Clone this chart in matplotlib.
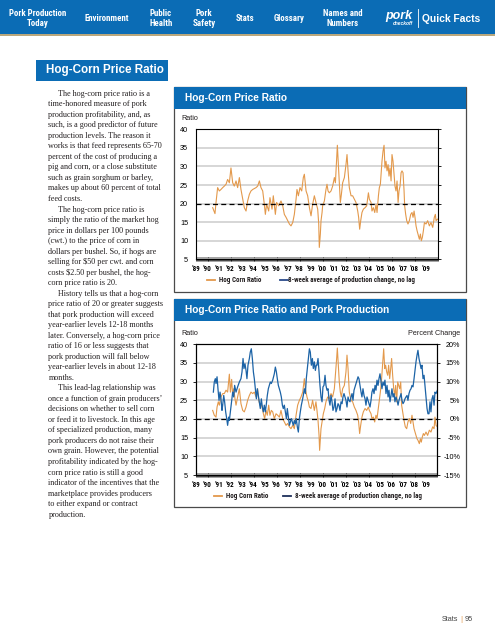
import matplotlib
matplotlib.use("Agg")
import matplotlib.pyplot as plt
from matplotlib import font_manager as fm
from matplotlib.patches import Rectangle
from matplotlib.lines import Line2D
from matplotlib.ticker import MultipleLocator, FuncFormatter

# ---------------- data ----------------
years = list(range(1989, 2010))
year_labels = ["\u2019%02d" % (y % 100) for y in years]
ratio_ticks = [5, 10, 15, 20, 25, 30, 35, 40]
pct_ticks = [-15, -10, -5, 0, 5, 10, 15, 20]

# Chart 1: Hog-corn price ratio
c1_year = [1990.45, 1990.65, 1990.74, 1990.88, 1991.03, 1991.17, 1991.32, 1991.46, 1991.61, 1991.75,
           1991.90, 1992.04, 1992.19, 1992.33, 1992.48, 1992.62, 1992.77, 1992.91, 1993.06, 1993.20,
           1993.35, 1993.49, 1993.64, 1993.78, 1993.93, 1994.22, 1994.36, 1994.51, 1994.65, 1994.80,
           1994.94, 1995.03, 1995.14, 1995.32, 1995.43, 1995.61, 1995.72, 1995.90, 1996.01, 1996.19,
           1996.39, 1996.54, 1996.68, 1996.83, 1996.97, 1997.12, 1997.26, 1997.41, 1997.55, 1997.70,
           1997.78, 1997.90, 1998.04, 1998.19, 1998.33, 1998.42, 1998.57, 1998.71, 1998.86, 1999.00,
           1999.14, 1999.29, 1999.43, 1999.58, 1999.67, 1999.72, 1999.81, 1999.87, 1999.96, 2000.01,
           2000.16, 2000.30, 2000.39, 2000.48, 2000.59, 2000.74, 2000.88, 2001.03, 2001.12, 2001.23,
           2001.29, 2001.38, 2001.46, 2001.55, 2001.64, 2001.75, 2001.90, 2002.04, 2002.13, 2002.22,
           2002.33, 2002.48, 2002.62, 2002.77, 2002.91, 2003.06, 2003.14, 2003.23, 2003.32, 2003.43,
           2003.55, 2003.70, 2003.84, 2003.99, 2004.07, 2004.22, 2004.30, 2004.42, 2004.54, 2004.65,
           2004.74, 2004.86, 2004.94, 2005.03, 2005.09, 2005.17, 2005.26, 2005.35, 2005.43, 2005.52,
           2005.61, 2005.70, 2005.78, 2005.87, 2005.96, 2006.04, 2006.13, 2006.22, 2006.30, 2006.39,
           2006.48, 2006.57, 2006.65, 2006.74, 2006.83, 2006.91, 2007.00, 2007.09, 2007.14, 2007.23,
           2007.32, 2007.43, 2007.55, 2007.67, 2007.78, 2007.87, 2007.96, 2008.04, 2008.13, 2008.22,
           2008.30, 2008.42, 2008.51, 2008.59, 2008.68, 2008.77, 2008.86, 2009.00, 2009.14, 2009.29,
           2009.43, 2009.58, 2009.72, 2009.81, 2009.87, 2009.99]
c1_ratio = [18.9, 17.3, 20.3, 24.3, 23.4, 23.8, 24.3, 24.7, 25.2, 26.5,
            25.6, 29.6, 25.6, 24.7, 26.1, 24.3, 27.0, 23.8, 21.2, 18.9,
            18.0, 20.7, 22.5, 23.4, 23.8, 24.3, 24.7, 26.1, 24.3, 23.4,
            19.8, 17.1, 19.8, 18.0, 21.6, 18.5, 22.1, 17.1, 20.3, 19.4,
            20.7, 19.4, 17.1, 16.3, 15.4, 14.5, 14.0, 14.9, 17.1, 21.2,
            23.8, 22.1, 24.3, 23.4, 27.0, 27.9, 23.4, 22.1, 18.9, 16.7,
            19.8, 22.1, 20.3, 18.5, 14.5, 8.2, 11.8, 15.4, 17.6, 19.4,
            20.7, 23.8, 25.2, 23.4, 22.9, 23.4, 24.7, 27.0, 25.6, 32.3,
            35.7, 30.5, 25.6, 20.3, 22.5, 25.6, 27.0, 30.5, 33.2, 28.8,
            24.3, 22.1, 22.1, 21.2, 20.3, 18.0, 16.3, 13.1, 15.4, 17.6,
            18.5, 18.9, 19.4, 22.9, 21.2, 20.3, 18.0, 18.9, 17.6, 19.8,
            17.6, 22.1, 24.3, 25.2, 27.9, 31.4, 34.1, 35.7, 29.6, 31.4,
            28.8, 30.5, 27.4, 29.6, 26.1, 33.2, 31.4, 27.9, 24.7, 23.4,
            26.1, 20.3, 23.4, 24.7, 28.3, 28.8, 28.3, 23.4, 19.4, 17.1,
            15.4, 14.5, 15.4, 17.1, 17.6, 16.3, 18.0, 16.3, 14.0, 12.7,
            11.8, 10.4, 11.8, 10.0, 10.9, 12.7, 14.9, 14.5, 15.4, 14.0,
            14.9, 13.6, 16.3, 17.1, 15.4, 15.8]

# Chart 2: hog-corn ratio (left axis)
c2_ratio_year = [1990.45, 1990.59, 1990.74, 1990.83, 1990.94, 1991.03, 1991.17, 1991.32, 1991.46, 1991.61,
                 1991.75, 1991.90, 1991.99, 1992.10, 1992.19, 1992.28, 1992.39, 1992.48, 1992.62, 1992.77,
                 1992.91, 1993.06, 1993.20, 1993.35, 1993.49, 1993.64, 1993.78, 1993.93, 1994.07, 1994.22,
                 1994.36, 1994.45, 1994.57, 1994.71, 1994.86, 1994.97, 1995.09, 1995.20, 1995.32, 1995.43,
                 1995.55, 1995.67, 1995.81, 1995.96, 1996.10, 1996.25, 1996.39, 1996.54, 1996.68, 1996.83,
                 1996.97, 1997.12, 1997.26, 1997.41, 1997.55, 1997.70, 1997.84, 1997.99, 1998.13, 1998.28,
                 1998.42, 1998.51, 1998.65, 1998.77, 1998.86, 1999.00, 1999.14, 1999.29, 1999.43,
                 1999.52, 1999.61, 1999.70, 1999.75, 1999.81, 1999.87, 1999.96, 2000.07, 2000.19, 2000.30,
                 2000.45, 2000.59, 2000.74, 2000.88, 2001.03, 2001.12, 2001.23, 2001.29, 2001.38, 2001.46,
                 2001.55, 2001.64, 2001.75, 2001.90, 2002.04, 2002.13, 2002.22, 2002.33, 2002.48, 2002.62,
                 2002.77, 2002.91, 2003.06, 2003.14, 2003.23, 2003.32, 2003.43, 2003.55, 2003.70, 2003.84,
                 2003.99, 2004.07, 2004.22, 2004.30, 2004.42, 2004.54, 2004.65, 2004.74, 2004.83, 2004.94,
                 2005.03, 2005.12, 2005.20, 2005.32, 2005.41, 2005.49, 2005.58, 2005.67, 2005.75, 2005.84,
                 2005.93, 2006.01, 2006.10, 2006.19, 2006.28, 2006.36, 2006.45, 2006.54, 2006.62, 2006.71,
                 2006.80, 2006.88, 2006.97, 2007.09, 2007.20, 2007.32, 2007.43, 2007.55, 2007.67, 2007.78,
                 2007.87, 2007.96, 2008.04, 2008.13, 2008.22, 2008.30, 2008.42, 2008.51, 2008.59, 2008.68,
                 2008.77, 2008.86, 2009.00, 2009.14, 2009.29, 2009.43, 2009.58, 2009.70, 2009.78, 2009.87,
                 2009.99]
c2_ratio = [22.3, 21.0, 20.5, 23.2, 24.6, 23.7, 25.9, 26.8, 26.8, 27.7,
            27.2, 32.0, 27.2, 30.6, 26.3, 28.1, 25.4, 23.7, 25.9, 28.1,
            24.1, 22.3, 21.9, 23.2, 25.0, 26.3, 27.2, 26.8, 27.2, 25.9,
            28.1, 25.0, 23.7, 23.7, 21.4, 20.1, 22.3, 21.0, 23.7, 21.0,
            22.3, 21.9, 20.1, 21.4, 21.0, 20.5, 22.3, 20.1, 19.2, 18.3,
            18.8, 17.9, 17.4, 18.3, 17.4, 21.0, 23.7, 25.0, 25.9, 27.2,
            30.8, 28.1, 25.9, 24.6, 23.2, 22.8, 25.0, 22.3, 24.6,
            22.3, 19.6, 15.6, 11.6, 14.7, 17.4, 19.2, 21.4, 22.8, 24.6,
            25.9, 25.4, 26.8, 25.9, 28.1, 31.7, 36.2, 39.0, 34.4, 29.9,
            27.2, 25.9, 28.1, 29.0, 32.6, 37.1, 33.5, 27.2, 25.0, 24.6,
            23.2, 22.3, 21.0, 19.2, 16.1, 18.3, 20.5, 21.9, 22.8, 22.3,
            23.2, 22.3, 21.4, 20.1, 20.5, 19.2, 21.0, 20.1, 22.3, 25.0,
            27.2, 29.9, 33.5, 38.8, 33.5, 34.4, 32.6, 31.7, 34.4, 30.8,
            33.5, 36.2, 31.7, 28.1, 26.3, 29.0, 24.6, 29.9, 29.0, 28.1,
            29.9, 23.7, 21.9, 19.6, 17.9, 17.4, 19.2, 20.1, 18.8, 21.0,
            19.2, 17.4, 16.5, 15.6, 14.7, 14.3, 13.4, 14.7, 13.8, 15.2,
            16.1, 15.6, 16.5, 15.6, 17.0, 16.5, 17.9, 17.4, 20.5, 18.3,
            17.9]

# Chart 2: 8-week average of production change, % (right axis)
c2_prod_year = [1990.51, 1990.59, 1990.68, 1990.74, 1990.83, 1990.91, 1991.00, 1991.09, 1991.17, 1991.26,
                1991.32, 1991.41, 1991.49, 1991.58, 1991.67, 1991.75, 1991.84, 1991.90, 1991.99, 1992.07,
                1992.19, 1992.28, 1992.36, 1992.48, 1992.62, 1992.77, 1992.91, 1993.00, 1993.09, 1993.17,
                1993.26, 1993.35, 1993.43, 1993.52, 1993.64, 1993.72, 1993.81, 1993.90, 1993.99, 1994.07,
                1994.16, 1994.25, 1994.33, 1994.42, 1994.51, 1994.59, 1994.68, 1994.77, 1994.86, 1994.94,
                1995.03, 1995.12, 1995.20, 1995.29, 1995.38, 1995.46, 1995.55, 1995.67, 1995.81, 1995.90,
                1995.99, 1996.07, 1996.16, 1996.25, 1996.33, 1996.42, 1996.51, 1996.59, 1996.68, 1996.77,
                1996.86, 1996.94, 1997.03, 1997.12, 1997.20, 1997.29, 1997.38, 1997.46, 1997.55, 1997.64,
                1997.72, 1997.81, 1997.90, 1997.99, 1998.07, 1998.16, 1998.25, 1998.33, 1998.42, 1998.51,
                1998.59, 1998.68, 1998.77, 1998.86, 1998.94, 1999.03, 1999.12, 1999.20, 1999.29, 1999.38,
                1999.46,
                1999.52, 1999.61, 1999.70, 1999.78, 1999.87, 1999.96, 2000.04, 2000.13, 2000.22, 2000.30,
                2000.39, 2000.48, 2000.57, 2000.65, 2000.74, 2000.83, 2000.91, 2001.00, 2001.09, 2001.17,
                2001.26, 2001.35, 2001.43, 2001.52, 2001.61, 2001.70, 2001.78, 2001.87, 2001.96, 2002.04,
                2002.13, 2002.22, 2002.30, 2002.39, 2002.48, 2002.57, 2002.65, 2002.74, 2002.83, 2002.91,
                2003.00, 2003.09, 2003.17, 2003.26, 2003.35, 2003.43, 2003.52, 2003.61, 2003.70, 2003.78,
                2003.87, 2003.96, 2004.04, 2004.13, 2004.22, 2004.30, 2004.39, 2004.48, 2004.57, 2004.65,
                2004.74, 2004.83, 2004.91, 2005.00, 2005.09, 2005.17, 2005.26, 2005.35, 2005.43, 2005.52,
                2005.61, 2005.70, 2005.78, 2005.87, 2005.96, 2006.04, 2006.13, 2006.22, 2006.30, 2006.39,
                2006.48, 2006.57, 2006.65, 2006.74, 2006.83, 2006.91, 2007.00, 2007.09, 2007.17, 2007.26,
                2007.35, 2007.43, 2007.52, 2007.61, 2007.70, 2007.78, 2007.87, 2007.96, 2008.04, 2008.13,
                2008.22, 2008.30, 2008.39, 2008.48, 2008.57, 2008.65, 2008.74, 2008.83, 2008.91, 2009.00,
                2009.09, 2009.17, 2009.26, 2009.35, 2009.43, 2009.52, 2009.61, 2009.70, 2009.78, 2009.87,
                2009.99]
c2_prod_pct = [7.2, 9.9, 10.8, 9.5, 11.3, 8.1, 5.0, 7.2, 5.4, 2.3,
               3.7, 6.3, 4.6, 1.9, 0.1, -1.7, 0.5, -0.4, 1.9, 4.1,
               7.2, 5.9, 9.0, 7.2, 8.6, 9.9, 10.8, 12.6, 16.2, 13.5,
               14.8, 13.0, 10.8, 14.4, 16.2, 17.9, 18.8, 16.2, 12.6, 10.8,
               8.1, 5.4, 8.1, 6.3, 4.6, 2.8, 5.4, 3.2, 1.9, 3.7,
               1.9, 4.1, 6.3, 8.1, 9.0, 9.9, 9.5, 10.4, 12.1, 13.9,
               12.6, 10.8, 9.0, 8.1, 7.2, 5.9, 3.7, 2.8, 3.7, 1.9,
               0.1, 2.8, 0.5, -1.7, -0.8, 0.1, -0.8, -1.7, -0.4, -1.3,
               0.1, -2.1, -3.5, 0.1, 1.9, 3.7, 5.0, 6.3, 8.1, 6.8,
               10.8, 13.5, 16.2, 18.8, 17.9, 14.4, 16.2, 13.5, 15.3, 13.0,
               14.4,
               14.4, 16.2, 12.6, 9.0, 5.9, 4.6, 8.6, 9.0, 11.7, 9.0,
               7.7, 8.1, 5.0, 3.7, 6.3, 4.6, 2.3, 3.2, 5.4, 1.9,
               2.8, 4.1, 3.7, 2.3, 4.6, 4.1, 5.9, 6.8, 5.9, 5.0,
               3.2, 5.9, 5.0, 4.6, 5.9, 6.8, 5.0, 7.7, 8.6, 9.5,
               10.4, 11.3, 10.8, 9.0, 7.2, 5.9, 8.1, 6.3, 5.4, 3.7,
               5.9, 5.0, 4.1, 3.2, 5.0, 7.2, 8.1, 6.8, 9.0, 7.7,
               10.4, 9.0, 10.8, 12.1, 9.9, 8.1, 9.9, 9.0, 10.4, 6.8,
               9.0, 5.9, 7.7, 4.6, 6.3, 8.1, 5.9, 6.8, 4.6, 5.9,
               5.0, 3.7, 5.0, 5.9, 6.8, 5.0, 4.1, 4.6, 5.4, 5.9,
               6.3, 5.0, 6.8, 7.7, 8.1, 9.0, 8.6, 10.8, 13.0, 15.3,
               17.1, 18.4, 16.2, 14.8, 13.5, 14.4, 10.8, 11.7, 9.0, 5.9,
               2.8, 1.4, 1.4, 4.6, 1.9, 5.4, 6.3, 3.7, 7.2, 6.8,
               7.7]

nav_items = ["Pork Production\nToday", "Environment", "Public\nHealth", "Pork\nSafety",
             "Stats", "Glossary", "Names and\nNumbers"]

body_paragraphs = [
    ["The hog-corn price ratio is a",
     "time-honored measure of pork",
     "production profitability, and, as",
     "such, is a good predictor of future",
     "production levels. The reason it",
     "works is that feed represents 65-70",
     "percent of the cost of producing a",
     "pig and corn, or a close substitute",
     "such as grain sorghum or barley,",
     "makes up about 60 percent of total",
     "feed costs."],
    ["The hog-corn price ratio is",
     "simply the ratio of the market hog",
     "price in dollars per 100 pounds",
     "(cwt.) to the price of corn in",
     "dollars per bushel. So, if hogs are",
     "selling for $50 per cwt. and corn",
     "costs $2.50 per bushel, the hog-",
     "corn price ratio is 20."],
    ["History tells us that a hog-corn",
     "price ratio of 20 or greater suggests",
     "that pork production will exceed",
     "year-earlier levels 12-18 months",
     "later. Conversely, a hog-corn price",
     "ratio of 16 or less suggests that",
     "pork production will fall below",
     "year-earlier levels in about 12-18",
     "months."],
    ["This lead-lag relationship was",
     "once a function of grain producers\u2019",
     "decisions on whether to sell corn",
     "or feed it to livestock. In this age",
     "of specialized production, many",
     "pork producers do not raise their",
     "own grain. However, the potential",
     "profitability indicated by the hog-",
     "corn price ratio is still a good",
     "indicator of the incentives that the",
     "marketplace provides producers",
     "to either expand or contract",
     "production."],
]

# ---------------- styling ----------------
names = {f.name for f in fm.fontManager.ttflist}
def pick(*cands):
    for c in cands:
        if c in names:
            return c
    return "DejaVu Sans"

COND = pick("Liberation Sans Narrow", "DejaVu Sans Condensed", "Roboto Condensed", "Liberation Sans")
SANS = pick("Liberation Sans", "Arial", "DejaVu Sans")
SERIF = pick("Liberation Serif", "DejaVu Serif")

BLUE = "#0b6cb5"
ORANGE = "#e3994c"
LINEBLUE = "#1c63a6"
GRID = "#cbcbcb"
TEXT = "#231f20"

W, H = 495, 640
fig = plt.figure(figsize=(W / 100, H / 100), dpi=100)
fig.patch.set_facecolor("white")

def fx(x):
    return x / W

def fy(y):
    return 1 - y / H

def rect(x0, y0, x1, y1, z=-2, **kw):
    fig.add_artist(Rectangle((fx(x0), fy(y1)), fx(x1) - fx(x0), fy(y0) - fy(y1),
                             transform=fig.transFigure, zorder=z, **kw))

# ---- banner ----
rect(0, 0, W, 34, facecolor=BLUE, edgecolor="none")
rect(0, 34, W, 35.5, facecolor="#b9a77c", edgecolor="none")
nav_x = [38, 107, 161, 204, 245, 289, 343]
for xx, lab in zip(nav_x, nav_items):
    fig.text(fx(xx), fy(18.5), lab, ha="center", va="center", color="white",
             family=COND, weight="bold", fontsize=6.4, linespacing=1.25)
fig.text(fx(399), fy(16), "pork", ha="center", va="center", color="white",
         family=SANS, weight="bold", style="italic", fontsize=9)
fig.text(fx(403), fy(23.5), "checkoff", ha="center", va="center", color="white",
         family=SANS, weight="bold", style="italic", fontsize=3.6)
fig.add_artist(Line2D([fx(418), fx(418)], [fy(9), fy(27)], transform=fig.transFigure,
                      color="white", lw=0.6))
fig.text(fx(422), fy(18.5), "Quick Facts", ha="left", va="center", color="white",
         family=SANS, weight="bold", fontsize=7.4)

# ---- section header ----
rect(36, 60, 168, 81, facecolor=BLUE, edgecolor="none")
fig.text(fx(46.5), fy(70.5), "Hog-Corn Price Ratio", ha="left", va="center", color="white",
         family=SANS, weight="bold", fontsize=8.4)

# ---- body text ----
line_h = 10.52
yy = 93.8
for para in body_paragraphs:
    for i, ln in enumerate(para):
        x0 = 58.5 if i == 0 else 48.5
        fig.text(fx(x0), fy(yy), ln, ha="left", va="center", color=TEXT,
                 family=SERIF, fontsize=5.85)
        yy += line_h

# ---- chart boxes ----
def chart_box(y0, y1, title):
    rect(174, y0, 466, y1, facecolor="white", edgecolor="#4a4a4a", lw=0.9)
    rect(174, y0, 466, y0 + 21.5, z=-1, facecolor=BLUE, edgecolor="none")
    fig.text(fx(185), fy(y0 + 11), title, ha="left", va="center", color="white",
             family=SANS, weight="bold", fontsize=7.3)

chart_box(87, 291.5, "Hog-Corn Price Ratio")
chart_box(299, 506.5, "Hog-Corn Price Ratio and Pork Production")

def style_axes(ax, xmax):
    ax.set_xlim(1989, xmax)
    ax.set_ylim(5, 40)
    ax.set_xticks(years)
    ax.set_xticklabels(year_labels)
    ax.xaxis.set_minor_locator(MultipleLocator(1 / 12))
    ax.tick_params(axis="x", which="both", direction="inout", length=2.6, width=0.5,
                   pad=3.0, labelsize=5.1, colors="black")
    for lab in ax.get_xticklabels():
        lab.set_family(COND)
        lab.set_weight("bold")
    ax.set_yticks(ratio_ticks)
    ax.tick_params(axis="y", which="both", left=False, right=True, direction="out",
                   length=2.2, width=0.6, pad=3.5, labelsize=5.2)
    for lab in ax.get_yticklabels():
        lab.set_family(SANS)
    ax.yaxis.grid(True, color=GRID, lw=1.1)
    ax.set_axisbelow(True)
    ax.patch.set_alpha(0)
    for s in ax.spines.values():
        s.set_color("black")
        s.set_linewidth(0.8)
    ax.axhline(20, color="black", lw=0.9, ls=(0, (4, 2.6)), zorder=2.6)

# ---- chart 1 ----
ax1 = fig.add_axes([fx(196), fy(259.3), fx(438) - fx(196), fy(129.3) - fy(259.3)])
style_axes(ax1, 2010.04)
ax1.plot(c1_year, c1_ratio, color=ORANGE, lw=0.8, zorder=2.5)
fig.text(fx(181), fy(118.7), "Ratio", ha="left", va="center", color=TEXT,
         family=SANS, fontsize=5.2)

def legend_row(y, x_or, x_bl, navy, gap):
    fig.add_artist(Line2D([fx(x_or), fx(x_or + 8)], [fy(y), fy(y)], transform=fig.transFigure,
                          color=ORANGE, lw=1.3))
    fig.text(fx(x_or + 12.5), fy(y), "Hog Corn Ratio", ha="left", va="center", color=TEXT,
             family=COND, weight="bold", fontsize=5.0)
    fig.add_artist(Line2D([fx(x_bl), fx(x_bl + 8)], [fy(y), fy(y)], transform=fig.transFigure,
                          color=navy, lw=1.3))
    fig.text(fx(x_bl + 8 + gap), fy(y),
             "8-week average of production change, no lag", ha="left", va="center",
             color=TEXT, family=COND, weight="bold", fontsize=5.0)

legend_row(280.3, 206.7, 279.5, "#2a4a8a", 0.5)

# ---- chart 2 ----
ax2 = fig.add_axes([fx(196), fy(475), fx(436.7) - fx(196), fy(344.3) - fy(475)])
style_axes(ax2, 2009.93)
ax2.tick_params(axis="y", right=False)
ax2.plot(c2_ratio_year, c2_ratio, color=ORANGE, lw=0.8, zorder=2.5)
ax2r = ax2.twinx()
ax2r.set_ylim(-15, 20)
ax2r.set_yticks(pct_ticks)
ax2r.yaxis.set_major_formatter(FuncFormatter(lambda v, p: "%d%%" % v))
ax2r.tick_params(axis="y", direction="out", length=2.2, width=0.6, pad=14.8, labelsize=5.2)
for lab in ax2r.get_yticklabels():
    lab.set_ha("right")
    lab.set_family(SANS)
for s in ax2r.spines.values():
    s.set_color("black")
    s.set_linewidth(0.8)
ax2r.plot(c2_prod_year, c2_prod_pct, color=LINEBLUE, lw=0.9, zorder=3)
fig.text(fx(181), fy(333.3), "Ratio", ha="left", va="center", color=TEXT,
         family=SANS, fontsize=5.2)
fig.text(fx(460.5), fy(333.3), "Percent Change", ha="right", va="center", color=TEXT,
         family=SANS, fontsize=5.2)
legend_row(495.8, 214, 283, "#1e2f5a", 4)

# ---- footer ----
fig.text(fx(458.5), fy(619.5), "Stats", ha="right", va="center", color="#444444",
         family=SANS, fontsize=5.2)
fig.text(fx(461.8), fy(619.5), "|", ha="center", va="center", color=ORANGE,
         family=SANS, fontsize=5.6)
fig.text(fx(465), fy(619.5), "95", ha="left", va="center", color="#444444",
         family=SANS, fontsize=5.2)

fig.savefig("out.png", dpi=100, facecolor="white")
